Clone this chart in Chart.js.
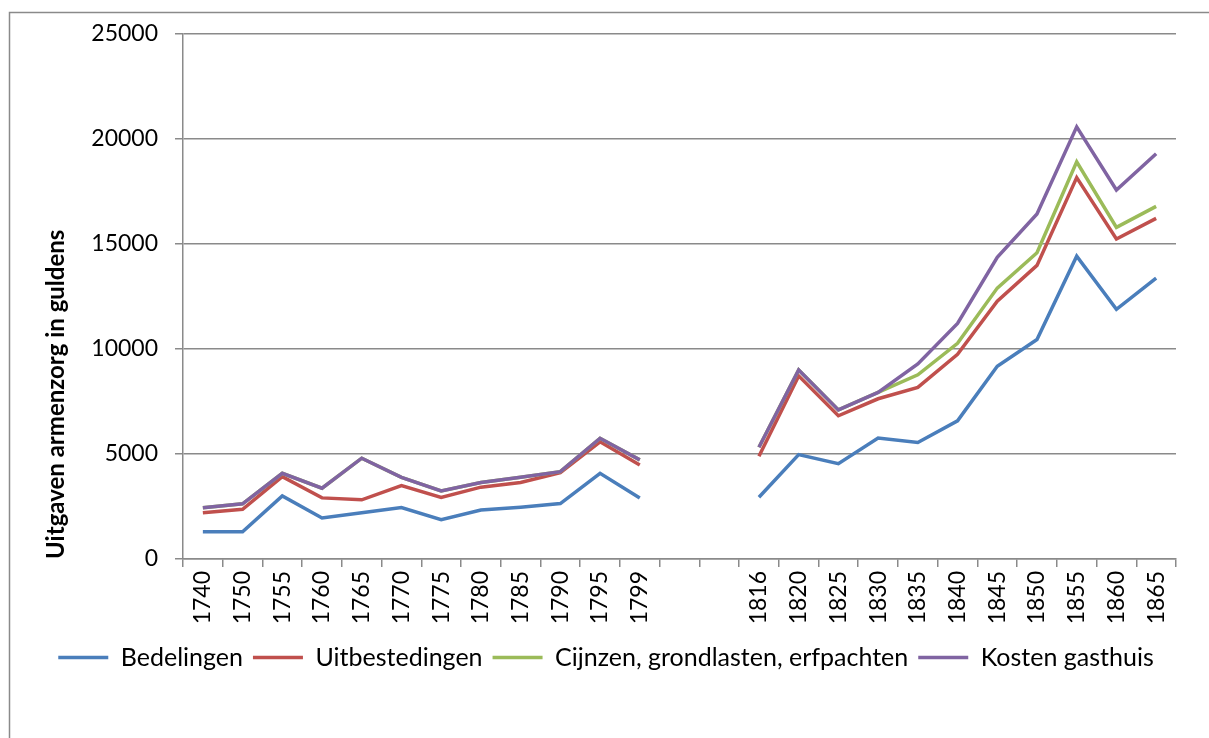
<!DOCTYPE html>
<html lang="nl">
  <head>
    <meta charset="utf-8" />
    <script src="https://cdn.jsdelivr.net/npm/chart.js"></script>
    <title>Uitgaven armenzorg</title>
    <style>
      body { margin: 0; background: #fff; }
      canvas { display: block; }
    </style>
  </head>
  <body>
    <canvas id="chart" width="1209" height="738"></canvas>
    <script>
      // jaren, twee lege plekken voor het gat tussen 1799 en 1816
      const jaren = ['1740', '1750', '1755', '1760', '1765', '1770', '1775', '1780', '1785', '1790', '1795', '1799', '', '',
                     '1816', '1820', '1825', '1830', '1835', '1840', '1845', '1850', '1855', '1860', '1865'];

      const bedelingen = [1300, 1300, 3000, 1950, 2200, 2450, 1870, 2330, 2470, 2640, 4080, 2900, null, null,
                          2940, 4970, 4540, 5760, 5550, 6580, 9180, 10450, 14420, 11890, 13380];
      const uitbestedingen = [2200, 2370, 3920, 2910, 2820, 3500, 2930, 3420, 3640, 4110, 5580, 4480, null, null,
                              4890, 8720, 6820, 7630, 8170, 9750, 12280, 13980, 18160, 15240, 16220];
      const cijnzen = [2440, 2630, 4080, 3370, 4800, 3890, 3240, 3640, 3890, 4160, 5750, 4720, null, null,
                       5320, 9000, 7100, 7930, 8770, 10270, 12900, 14580, 18910, 15790, 16790];
      const gasthuis = [2440, 2630, 4080, 3370, 4800, 3890, 3240, 3640, 3890, 4160, 5750, 4720, null, null,
                        5320, 9000, 7100, 7930, 9290, 11220, 14370, 16430, 20580, 17570, 19300];

      const yTicks = [0, 5000, 10000, 15000, 20000, 25000];

      const grijs = '#8a8a8a';

      function lijn(label, data, kleur, order) {
        return {
          label,
          data,
          borderColor: kleur,
          backgroundColor: kleur,
          borderWidth: 3.5,
          pointRadius: 0,
          tension: 0,
          spanGaps: false,
          order
        };
      }

      // kader om de hele grafiek (alleen boven en links zichtbaar)
      const kader = {
        id: 'kader',
        beforeDraw(chart) {
          const ctx = chart.ctx;
          ctx.save();
          ctx.fillStyle = '#fff';
          ctx.fillRect(0, 0, chart.width, chart.height);
          ctx.strokeStyle = grijs;
          ctx.lineWidth = 1.5;
          ctx.beginPath();
          ctx.moveTo(9.5, chart.height);
          ctx.lineTo(9.5, 12.5);
          ctx.lineTo(chart.width, 12.5);
          ctx.stroke();
          ctx.restore();
        }
      };

      new Chart(document.getElementById('chart').getContext('2d'), {
        type: 'line',
        data: {
          labels: jaren,
          datasets: [
            lijn('Bedelingen', bedelingen, '#4a7ebb', 3),
            lijn('Uitbestedingen', uitbestedingen, '#c0504d', 2),
            lijn('Cijnzen, grondlasten, erfpachten', cijnzen, '#9bbb59', 1),
            lijn('Kosten gasthuis', gasthuis, '#8064a2', 0)
          ]
        },
        options: {
          responsive: false,
          animation: false,
          layout: { padding: { left: 36, right: 33, top: 34, bottom: 58 } },
          plugins: {
            tooltip: { enabled: false },
            legend: {
              position: 'bottom',
              labels: {
                usePointStyle: true,
                pointStyle: 'line',
                pointStyleWidth: 50,
                padding: 10,
                color: '#000',
                font: { family: 'Lato', size: 25 },
                sort: (a, b) => a.datasetIndex - b.datasetIndex
              }
            }
          },
          scales: {
            x: {
              offset: true,
              grid: { offset: true, drawOnChartArea: false, drawTicks: true, tickLength: 8, color: grijs, lineWidth: 1.5 },
              border: { color: grijs, width: 1.5 },
              ticks: {
                autoSkip: false,
                maxRotation: 90,
                minRotation: 90,
                padding: 4,
                color: '#000',
                font: { family: 'Lato', size: 23 }
              },
              afterFit(scale) { scale.height = 76; }
            },
            y: {
              min: 0,
              max: 25000,
              afterBuildTicks(scale) { scale.ticks = yTicks.map(v => ({ value: v })); },
              grid: { color: grijs, lineWidth: 1.5, tickLength: 8 },
              border: { color: grijs, width: 1.5 },
              ticks: {
                padding: 17,
                color: '#000',
                font: { family: 'Lato', size: 23 },
                callback: value => String(value)
              },
              title: {
                display: true,
                text: 'Uitgaven armenzorg in guldens',
                align: 'start',
                color: '#000',
                padding: { top: 6, bottom: 0 },
                font: { family: 'Lato', size: 24, weight: 'bold' }
              },
              afterFit(scale) { scale.width = 147; }
            }
          }
        },
        plugins: [kader]
      });
    </script>
  </body>
</html>
